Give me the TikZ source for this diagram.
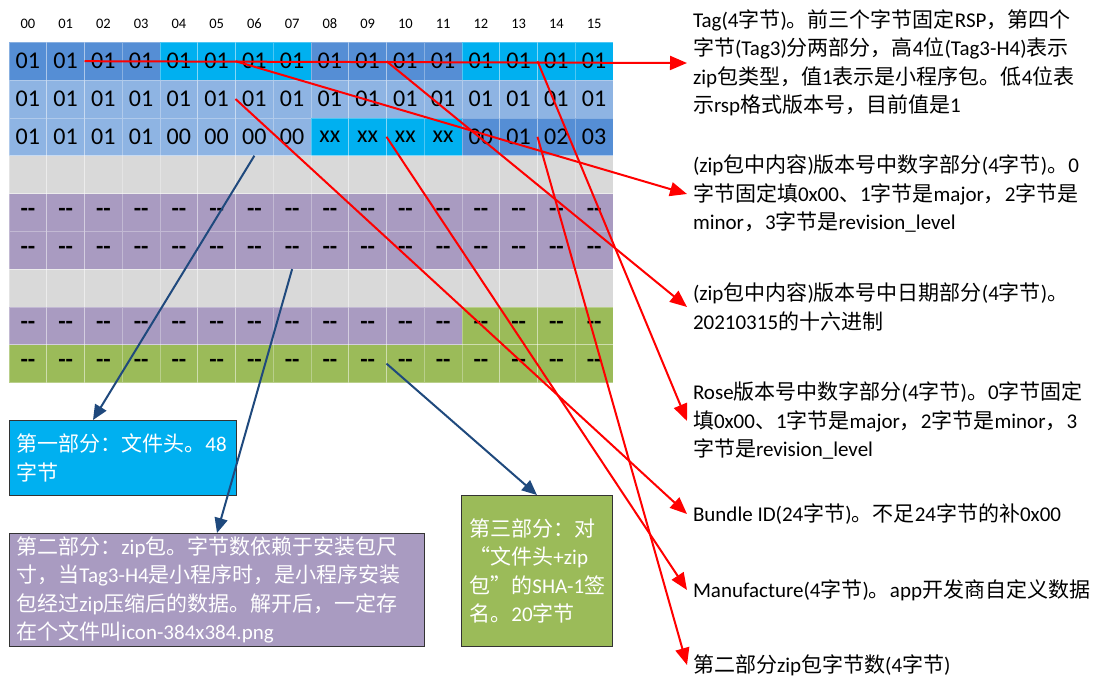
\documentclass[tikz,border=0pt]{standalone}
\usepackage{fontspec}
\setmainfont{Carlito}
\newfontfamily\cjkf{Noto Sans CJK SC}
\usetikzlibrary{arrows.meta}
% automatic switch to the CJK font for Chinese characters
\XeTeXinterchartokenstate=1
\newXeTeXintercharclass\cjkcls
\newcount\cjkc
\def\setcjkrange#1#2{\cjkc=#1\relax\loop\XeTeXcharclass\cjkc=\cjkcls\relax\ifnum\cjkc<#2\advance\cjkc by 1\relax\repeat}
\setcjkrange{"4E00}{"9FFF}
\setcjkrange{"3000}{"303F}
\setcjkrange{"FF00}{"FFEF}
\XeTeXcharclass"201C=\cjkcls
\XeTeXcharclass"201D=\cjkcls
\XeTeXinterchartoks 0 \cjkcls = {\cjkf}
\XeTeXinterchartoks 4095 \cjkcls = {\cjkf}
\XeTeXinterchartoks \cjkcls 0 = {\rmfamily}
\XeTeXinterchartoks \cjkcls 4095 = {\rmfamily}
\definecolor{dkb}{HTML}{558ED5}
\definecolor{cyb}{HTML}{00B0F0}
\definecolor{ltb}{HTML}{8EB4E3}
\definecolor{gry}{HTML}{D9D9D9}
\definecolor{pur}{HTML}{A99BC1}
\definecolor{grn}{HTML}{9BBB59}
\definecolor{arrb}{HTML}{1F497D}
\begin{document}
\begin{tikzpicture}[x=1pt,y=-1pt,
 cell/.style={minimum width=37.75pt,minimum height=37.8pt,inner sep=0pt,outer sep=0pt,draw=white,draw opacity=0.3,line width=0.6pt,font=\fontsize{24}{24}\selectfont},
 dcell/.style={cell,font=\fontsize{24}{24}\selectfont\bfseries},
 hdr/.style={font=\fontsize{14.5}{14.5}\selectfont,inner sep=0pt},
 rtext/.style={anchor=west,inner xsep=6pt,inner ysep=0pt,outer sep=0pt,align=left,font=\fontsize{21}{28.5}\selectfont},
 partbox/.style={anchor=north west,draw=black!80,line width=0.9pt,align=left,text=white,inner xsep=7pt,font=\fontsize{21}{28.3}\selectfont},
 redarr/.style={draw=red,line width=2pt,-{Triangle[length=17pt,width=14pt]}},
 bluearr/.style={draw=arrb,line width=2pt,-{Triangle[length=15pt,width=13pt]}}]
\useasboundingbox (0,0) rectangle (1108,689);
\fill[white] (0,0) rectangle (1108,689);
% header
\foreach \c in {0,...,15}{\node[hdr] (h\c) at ({9+37.75*(\c+0.5)},24) {\ifnum\c<10 0\fi\c};}
% row 1
\foreach \c in {0,...,15}{
 \ifnum\c<4 \def\cc{dkb}\else\ifnum\c<8 \def\cc{cyb}\else\ifnum\c<12 \def\cc{dkb}\else\def\cc{cyb}\fi\fi\fi
 \node[cell,fill=\cc] (c1-\c) at ({9+37.75*(\c+0.5)},61.2) {01};}
% row 2
\foreach \c in {0,...,15}{\node[cell,fill=ltb] (c2-\c) at ({9+37.75*(\c+0.5)},99) {01};}
% row 3
\foreach \c/\t in {0/01,1/01,2/01,3/01,4/00,5/00,6/00,7/00,8/xx,9/xx,10/xx,11/xx,12/00,13/01,14/02,15/03}{
 \ifnum\c<8 \def\cc{ltb}\else\ifnum\c<12 \def\cc{cyb}\else\def\cc{dkb}\fi\fi
 \node[cell,fill=\cc] (c3-\c) at ({9+37.75*(\c+0.5)},136.8) {\t};}
% row 4 and 7
\foreach \c in {0,...,15}{\node[cell,fill=gry] (c4-\c) at ({9+37.75*(\c+0.5)},174.6) {};}
\foreach \c in {0,...,15}{\node[cell,fill=gry] (c7-\c) at ({9+37.75*(\c+0.5)},288) {};}
% rows 5, 6
\foreach \c in {0,...,15}{\node[dcell,fill=pur] (c5-\c) at ({9+37.75*(\c+0.5)},212.4) {-{}-};}
\foreach \c in {0,...,15}{\node[dcell,fill=pur] (c6-\c) at ({9+37.75*(\c+0.5)},250.2) {-{}-};}
% row 8
\foreach \c in {0,...,15}{
 \ifnum\c<12 \def\cc{pur}\else\def\cc{grn}\fi
 \node[dcell,fill=\cc] (c8-\c) at ({9+37.75*(\c+0.5)},325.8) {-{}-};}
% row 9
\foreach \c in {0,...,15}{\node[dcell,fill=grn] (c9-\c) at ({9+37.75*(\c+0.5)},363.6) {-{}-};}
% right texts
\node[rtext] (t1) at (687,63) {Tag(4字节)。前三个字节固定RSP，第四个\\字节(Tag3)分两部分，高4位(Tag3-H4)表示\\zip包类型，值1表示是小程序包。低4位表\\示rsp格式版本号，目前值是1};
\node[rtext] (t2) at (687,194) {(zip包中内容)版本号中数字部分(4字节)。0\\字节固定填0x00、1字节是major，2字节是\\minor，3字节是revision\_level};
\node[rtext] (t3) at (687,307) {(zip包中内容)版本号中日期部分(4字节)。\\20210315的十六进制};
\node[rtext] (t4) at (687,421) {Rose版本号中数字部分(4字节)。0字节固定\\填0x00、1字节是major，2字节是minor，3\\字节是revision\_level};
\node[rtext] (t5) at (687,514) {Bundle ID(24字节)。不足24字节的补0x00};
\node[rtext] (t6) at (687,590) {Manufacture(4字节)。app开发商自定义数据};
\node[rtext] (t7) at (687,665) {第二部分zip包字节数(4字节)};
% part boxes
\node[partbox,fill=cyb,minimum width=227pt,minimum height=75pt,text width=213pt] (b1) at (9,420) {第一部分：文件头。48\\字节};
\node[partbox,fill=pur,minimum width=415pt,minimum height=113pt,text width=401pt] (b2) at (9,533) {第二部分：zip包。字节数依赖于安装包尺\\寸，当Tag3-H4是小程序时，是小程序安装\\包经过zip压缩后的数据。解开后，一定存\\在个文件叫icon-384x384.png};
\node[partbox,fill=grn,minimum width=151pt,minimum height=151pt,text width=135pt,inner xsep=8pt] (b3) at (461,495) {第三部分：对\\“文件头+zip\\包”的\mbox{SHA-1}签\\名。20字节};
% blue arrows
\draw[bluearr] (c3-6.south) -- ([xshift=84pt]b1.north west);
\draw[bluearr] (c6-7.south) -- ([xshift=208pt]b2.north west);
\draw[bluearr] (c9-9.east) -- (b3.north);
% red arrows
\draw[redarr] (c1-1.east) -- (t1.west);
\draw[redarr] (c1-5.east) -- (t2.west);
\draw[redarr] (c1-9.east) -- (t3.west);
\draw[redarr] (c1-13.east) -- (t4.west);
\draw[redarr] (c2-5.east) -- (t5.west);
\draw[redarr] (c3-9.east) -- (t6.west);
\draw[redarr] (c3-13.east) -- (t7.west);
\end{tikzpicture}
\end{document}
